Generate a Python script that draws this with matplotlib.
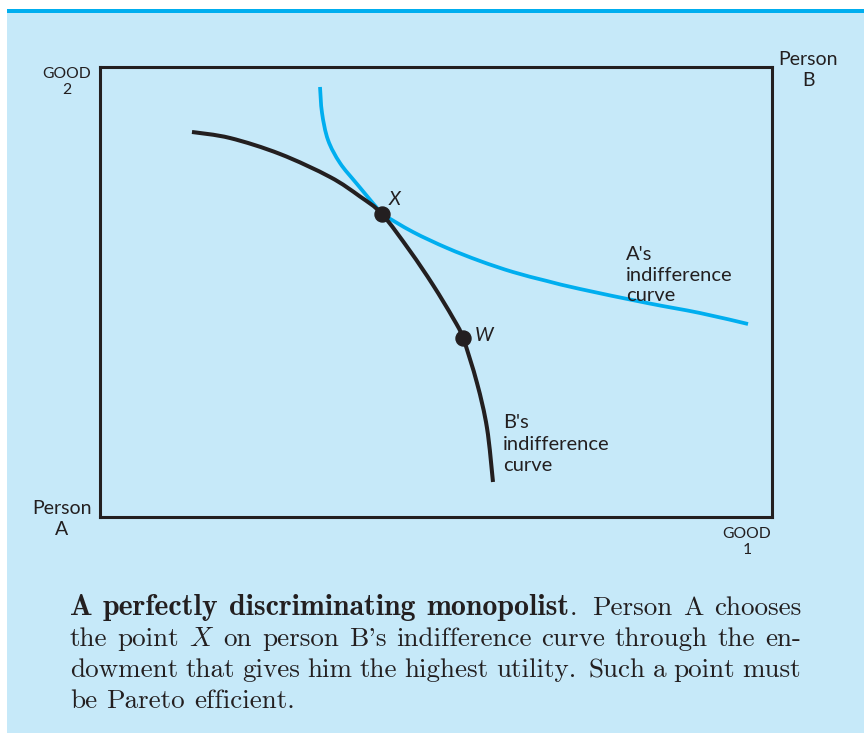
import matplotlib.pyplot as plt
from matplotlib.patches import Rectangle, PathPatch
from matplotlib.path import Path

W_PX, H_PX = 864, 738
BG = "#c6e9f9"
CYAN = "#00aeef"
INK = "#231f20"

plt.rcParams["mathtext.fontset"] = "cm"

# curves in box units (0..10 on both axes)
b_curve_x = [1.369, 1.935, 2.679, 3.423, 3.869, 4.196, 4.613, 4.955, 5.253, 5.402, 5.610, 5.759, 5.848]
b_curve_y = [8.556, 8.422, 8.067, 7.556, 7.122, 6.733, 5.911, 5.156, 4.422, 3.978, 2.978, 1.978, 0.778]
a_curve_x = [3.274, 3.304, 3.393, 3.571, 3.824, 4.196, 4.658, 5.164, 5.655, 6.146, 6.652, 7.143, 8.140, 8.929, 9.643]
a_curve_y = [9.556, 8.978, 8.378, 7.867, 7.400, 6.733, 6.333, 5.978, 5.689, 5.444, 5.244, 5.067, 4.756, 4.533, 4.289]
point_names = ["X", "W"]
point_x = [4.196, 5.402]
point_y = [6.733, 3.978]

caption_lines = [
    "**A perfectly discriminating monopolist**. Person A chooses",
    "the point $X$ on person B's indifference curve through the en-",
    "dowment that gives him the highest utility. Such a point must",
    "be Pareto efficient.",
]


def px(x, y):
    return x / W_PX, 1 - y / H_PX


def smooth_path(xs, ys, breaks=()):
    # Catmull-Rom through the read points, drawn as cubic Bezier segments;
    # at a break point the tangent is not carried across
    pts = list(zip(xs, ys))
    verts, codes = [pts[0]], [Path.MOVETO]
    for i in range(len(pts) - 1):
        p1, p2 = pts[i], pts[i + 1]
        p0 = p1 if (i == 0 or p1 in breaks) else pts[i - 1]
        p3 = p2 if (i + 2 >= len(pts) or p2 in breaks) else pts[i + 2]
        c1 = (p1[0] + (p2[0] - p0[0]) / 6, p1[1] + (p2[1] - p0[1]) / 6)
        c2 = (p2[0] - (p3[0] - p1[0]) / 6, p2[1] - (p3[1] - p1[1]) / 6)
        verts += [c1, c2, p2]
        codes += [Path.CURVE4] * 3
    return Path(verts, codes)


def label(lines, x, baselines, ha="left", size=14, style="normal"):
    for s, yb in zip(lines, baselines):
        fig.text(*px(x, yb), s, ha=ha, va="baseline", fontsize=size,
                 family="Lato", style=style, color=INK)


def tokens(line):
    out = []
    for i, seg in enumerate(line.split("**")):
        if not seg:
            continue
        bold = i % 2 == 1
        for j, w in enumerate(seg.split()):
            if j == 0 and out and seg[0] != " ":
                out[-1].append((w, bold))
            else:
                out.append([(w, bold)])
    return out


fig = plt.figure(figsize=(W_PX / 100, H_PX / 100), dpi=100)
fig.patch.set_facecolor("white")
fig.patches.append(Rectangle(px(7, 733), (W_PX - 7) / W_PX, (733 - 9) / H_PX,
                             transform=fig.transFigure, facecolor=BG, edgecolor="none", zorder=-2))
fig.patches.append(Rectangle(px(7, 13), (W_PX - 7) / W_PX, 4 / H_PX,
                             transform=fig.transFigure, facecolor=CYAN, edgecolor="none", zorder=-1))

ax = fig.add_axes([100 / W_PX, 1 - 517 / H_PX, 672 / W_PX, 450 / H_PX])
ax.set_facecolor("none")
ax.set_xlim(0, 10)
ax.set_ylim(0, 10)
ax.set_xticks([])
ax.set_yticks([])
for sp in ax.spines.values():
    sp.set_linewidth(2.2)
    sp.set_color(INK)

x_point = (point_x[0], point_y[0])
ax.add_patch(PathPatch(smooth_path(a_curve_x, a_curve_y, breaks=[x_point]), facecolor="none",
                       edgecolor=CYAN, lw=2.7, capstyle="butt"))
ax.add_patch(PathPatch(smooth_path(b_curve_x, b_curve_y), facecolor="none",
                       edgecolor=INK, lw=2.9, capstyle="butt"))
ax.plot(point_x, point_y, "o", color=INK, ms=10.8, zorder=5)

# axis labels and curve notes
label(["GOOD", "2"], 67, [78.5, 94.5], ha="center", size=11.3)
label(["GOOD", "1"], 747, [537.5, 553.5], ha="center", size=11.3)
label(["Person", "B"], 808.5, [65, 85.5], ha="center", size=14)
label(["Person", "A"], 62, [514, 535], ha="center", size=14)
label(["A's", "indifference", "curve"], 626, [260, 280.5, 301], size=14.5)
label(["B's", "indifference", "curve"], 503, [428.5, 449.5, 471], size=14.5)
label([point_names[0]], 389, [205], size=14, style="italic")
label([point_names[1]], 475, [340.5], size=14, style="italic")

# justified caption
renderer = fig.canvas.get_renderer()
left, right = 70, 801
cap_base = [615, 646, 677, 708]
cap_size, bold_size = 19.5, 21.5
space = cap_size * 100 / 72 * 0.333
for n, (line, yb) in enumerate(zip(caption_lines, cap_base)):
    words = []
    for word in tokens(line):
        pieces = []
        for text, bold in word:
            t = fig.text(0, 0, text, fontsize=bold_size if bold else cap_size,
                         va="baseline", color=INK, family="cmb10" if bold else "cmr10")
            pieces.append((t, t.get_window_extent(renderer).width))
        words.append(pieces)
    widths = [sum(w for _, w in p) for p in words]
    gaps = [space * (1.5 if words[i][-1][0].get_text().endswith(".") else 1.0)
            for i in range(len(words) - 1)]
    extra = 0
    if n < len(caption_lines) - 1:
        extra = (right - left - sum(widths) - sum(gaps)) / len(gaps)
    x = left
    for i, pieces in enumerate(words):
        for t, w in pieces:
            t.set_position(px(x, yb))
            x += w
        if i < len(gaps):
            x += gaps[i] + extra

fig.savefig("out.png", dpi=100)
